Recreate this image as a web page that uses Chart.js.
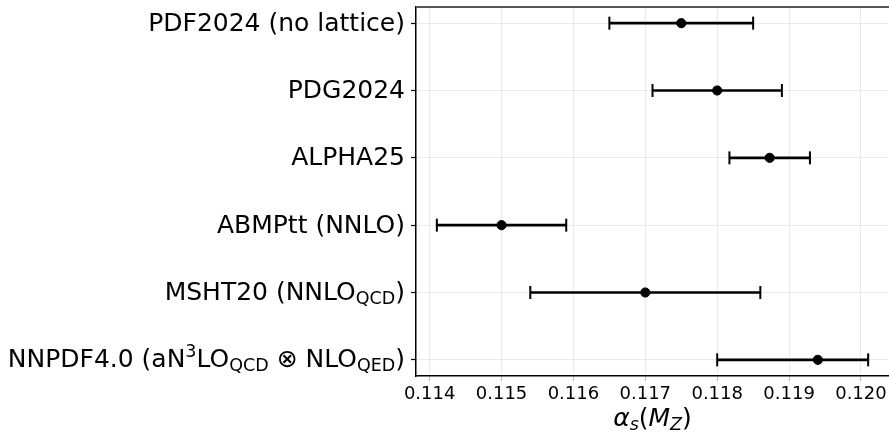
<!DOCTYPE html>
<html>
<head>
<meta charset="utf-8">
<script src="https://cdn.jsdelivr.net/npm/chart.js@4.4.1/dist/chart.umd.min.js"></script>
<style>
html,body{margin:0;padding:0;background:#fff;}
#wrap{width:889px;height:432px;position:relative;overflow:hidden;}
</style>
</head>
<body>
<div id="wrap"><canvas id="c" width="889" height="432"></canvas></div>
<script>
// ---- data ----
const labels = [
  [{t:"PDF2024 (no lattice)"}],
  [{t:"PDG2024"}],
  [{t:"ALPHA25"}],
  [{t:"ABMPtt (NNLO)"}],
  [{t:"MSHT20 (NNLO"},{t:"QCD",sub:true},{t:")"}],
  [{t:"NNPDF4.0 (aN"},{t:"3",sup:true},{t:"LO"},{t:"QCD",sub:true},{t:" \u2297 NLO"},{t:"QED",sub:true},{t:")"}]
];
const central = [0.1175, 0.1180, 0.11873, 0.1150, 0.1170, 0.1194];
const errLow  = [0.0010, 0.0009, 0.00056, 0.0009, 0.0016, 0.0014];
const errHigh = [0.0010, 0.0009, 0.00056, 0.0009, 0.0016, 0.0007];
const xTicks = [0.114, 0.115, 0.116, 0.117, 0.118, 0.119, 0.120];

const FONT = "'DejaVu Sans', sans-serif";

const datasets = [];
central.forEach((c, i) => {
  datasets.push({
    type: 'line',
    data: [{x: c - errLow[i], y: i}, {x: c + errHigh[i], y: i}],
    borderColor: '#000', backgroundColor: '#000',
    borderWidth: 2.6,
    pointStyle: 'line', rotation: 90,
    pointRadius: 6.5, pointBorderWidth: 2, pointHoverRadius: 6.5,
    order: 2
  });
});
datasets.push({
  type: 'scatter',
  data: central.map((c, i) => ({x: c, y: i})),
  backgroundColor: '#000', borderColor: '#000',
  pointRadius: 4.6, pointHoverRadius: 4.6,
  order: 1
});

function drawRich(ctx, segs, xRight, yMid) {
  const norm = "25px " + FONT, small = "17.5px " + FONT;
  let w = 0;
  segs.forEach(s => { ctx.font = (s.sub || s.sup) ? small : norm; w += ctx.measureText(s.t).width; });
  let x = xRight - w;
  ctx.textBaseline = 'middle';
  ctx.textAlign = 'left';
  segs.forEach(s => {
    ctx.font = (s.sub || s.sup) ? small : norm;
    let dy = s.sub ? 6 : (s.sup ? -8 : 0);
    ctx.fillText(s.t, x, yMid + dy);
    x += ctx.measureText(s.t).width;
  });
}

const decor = {
  id: 'decor',
  afterDraw(chart) {
    const ctx = chart.ctx, ys = chart.scales.y, a = chart.chartArea;
    ctx.save();
    ctx.fillStyle = '#000';
    labels.forEach((segs, i) => drawRich(ctx, segs, a.left - 11, ys.getPixelForValue(i) + 1));
    // top frame
    ctx.strokeStyle = '#555';
    ctx.lineWidth = 2;
    ctx.beginPath(); ctx.moveTo(a.left, a.top); ctx.lineTo(a.right, a.top); ctx.stroke();
    // axis title  α_s(M_Z)
    const it = "italic 25px " + FONT, itS = "italic 17.5px " + FONT, up = "25px " + FONT;
    const segs = [{t:"\u03b1",f:it},{t:"s",f:itS,dy:6},{t:"(",f:up},{t:"M",f:it},{t:"Z",f:itS,dy:6},{t:")",f:up}];
    let w = 0;
    segs.forEach(s => { ctx.font = s.f; w += ctx.measureText(s.t).width; });
    let x = (a.left + a.right) / 2 - w / 2;
    const yT = 419;
    ctx.textBaseline = 'middle';
    segs.forEach(s => { ctx.font = s.f; ctx.fillText(s.t, x, yT + (s.dy || 0)); x += ctx.measureText(s.t).width; });
    ctx.restore();
  }
};

new Chart(document.getElementById('c'), {
  data: { datasets },
  options: {
    responsive: false,
    animation: false,
    events: [],
    layout: { autoPadding: false, padding: { top: 7, right: 0, left: 0, bottom: 0 } },
    plugins: { legend: { display: false }, tooltip: { enabled: false } },
    scales: {
      x: {
        type: 'linear',
        min: 0.11381, max: 0.12039,
        afterBuildTicks: s => { s.ticks = xTicks.map(v => ({value: v})); },
        afterFit: s => { s.height = 56; s.paddingRight = 0; s.paddingLeft = 0; },
        ticks: {
          color: '#000', font: { family: FONT, size: 18 }, padding: 3,
          callback: v => Number(v).toFixed(3), maxRotation: 0, autoSkip: false
        },
        grid: { color: 'rgba(0,0,0,0.08)', lineWidth: 1, tickColor: 'rgba(0,0,0,0.25)', tickLength: 5, tickWidth: 1.2 },
        border: { display: true, color: '#000', width: 1.5 }
      },
      y: {
        type: 'linear',
        reverse: true,
        min: -0.24, max: 5.24,
        afterBuildTicks: s => { s.ticks = labels.map((_, i) => ({value: i})); },
        afterFit: s => { s.width = 416; },
        ticks: { display: true, callback: () => '', font: { size: 1 }, padding: 0 },
        grid: { color: 'rgba(0,0,0,0.08)', lineWidth: 1, tickColor: '#000', tickLength: 5, tickWidth: 1.2 },
        border: { display: true, color: '#000', width: 1.5 }
      }
    }
  },
  plugins: [decor]
});
</script>
</body>
</html>
